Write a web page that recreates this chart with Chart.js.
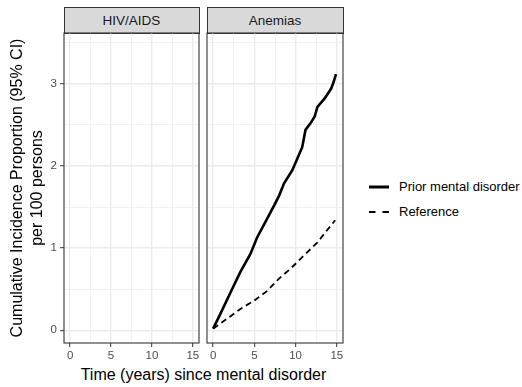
<!DOCTYPE html>
<html lang="en">
<head>
<meta charset="UTF-8">
<title>Cumulative incidence after mental disorder</title>
<script src="https://cdn.jsdelivr.net/npm/chart.js"></script>
<style>
    body {
        margin: 0;
        padding: 0;
        background: #fff;
        font-family: "Liberation Sans", Arial, sans-serif;
    }
    #wrap {
        position: relative;
        width: 522px;
        height: 387px;
        overflow: hidden;
    }
    canvas {
        position: absolute;
    }
    .strip {
        position: absolute;
        box-sizing: border-box;
        top: 7px;
        height: 27px;
        background: #d9d9d9;
        border: 1px solid #333;
        font-size: 13.5px;
        color: #1a1a1a;
        text-align: center;
        line-height: 25px;
    }
    #xtitle {
        position: absolute;
        left: 64px;
        width: 279px;
        top: 366px;
        text-align: center;
        font-size: 16px;
        line-height: 18px;
        color: #000;
    }
    .leg {
        position: absolute;
        left: 369px;
        font-size: 13px;
        color: #000;
        height: 16px;
        line-height: 16px;
    }
    .leg svg {
        vertical-align: top;
        margin-right: 10px;
    }
</style>
</head>
<body>
<div id="wrap">
    <div class="strip" style="left:63.5px;width:136px">HIV/AIDS</div>
    <div class="strip" style="left:206.5px;width:137px">Anemias</div>
    <canvas id="c1" width="205" height="332" style="left:0;top:31px"></canvas>
    <canvas id="c2" width="144" height="332" style="left:205px;top:31px"></canvas>
    <div id="xtitle">Time (years) since mental disorder</div>
    <div class="leg" style="top:179px">
        <svg width="20" height="16"><line x1="0" y1="8" x2="20" y2="8" stroke="#000" stroke-width="3"/></svg>Prior mental disorder
    </div>
    <div class="leg" style="top:204px">
        <svg width="20" height="16"><line x1="0" y1="8" x2="20" y2="8" stroke="#000" stroke-width="2" stroke-dasharray="6.5 7"/></svg>Reference
    </div>
</div>

<script>
    // valeurs (panneau Anemias)
    const priorTime = [0, 0.87, 2.29, 3.3, 4.52, 5.33, 6.55, 7.4, 8.0, 8.6, 9.6, 10.2, 10.8, 11.2, 11.8, 12.3, 12.65, 13.5, 14.3, 14.6, 14.9];
    const priorCIP  = [0.02, 0.20, 0.50, 0.71, 0.93, 1.13, 1.36, 1.52, 1.64, 1.79, 1.95, 2.09, 2.23, 2.44, 2.52, 2.60, 2.72, 2.82, 2.94, 3.02, 3.12];
    const refTime = [0, 1.68, 3.3, 4.96, 6.56, 7.99, 9.4, 11.0, 12.65, 13.67, 14.8];
    const refCIP  = [0.02, 0.14, 0.26, 0.36, 0.48, 0.63, 0.75, 0.91, 1.07, 1.20, 1.34];

    const xTicks = [0, 2.5, 5, 7.5, 10, 12.5, 15];
    const xLabels = [0, 5, 10, 15];
    const yTicks = [0, 0.5, 1, 1.5, 2, 2.5, 3, 3.5];
    const yLabels = [0, 1, 2, 3];

    const xMin = -0.75, xMax = 15.75;
    const yMin = -0.155, yMax = 3.62;

    const tickFont = { family: '"Liberation Sans", Arial, sans-serif', size: 11.5 };

    const panelBorder = {
        id: 'panelBorder',
        afterDraw(chart) {
            const a = chart.chartArea;
            const c = chart.ctx;
            c.save();
            c.strokeStyle = '#333';
            c.lineWidth = 1.1;
            c.strokeRect(a.left, a.top, a.right - a.left, a.bottom - a.top);
            c.restore();
        }
    };

    function isMajor(list, v) {
        return list.some(t => Math.abs(t - v) < 1e-6);
    }

    function xScale() {
        return {
            type: 'linear',
            min: xMin,
            max: xMax,
            afterBuildTicks: s => { s.ticks = xTicks.map(v => ({ value: v })); },
            afterFit: s => { s.height = 20; s.paddingLeft = 0; s.paddingRight = 0; },
            border: { display: false },
            grid: {
                color: '#ebebeb',
                lineWidth: ctx => isMajor(xLabels, ctx.tick.value) ? 1.4 : 0.7,
                tickColor: ctx => isMajor(xLabels, ctx.tick.value) ? '#333' : 'rgba(0,0,0,0)',
                tickLength: 4,
                tickWidth: 1
            },
            ticks: {
                autoSkip: false,
                maxRotation: 0,
                padding: 2,
                color: '#4d4d4d',
                font: tickFont,
                callback: v => isMajor(xLabels, v) ? String(v) : ''
            }
        };
    }

    function yScale(showLabels) {
        return {
            type: 'linear',
            min: yMin,
            max: yMax,
            afterBuildTicks: s => { s.ticks = yTicks.map(v => ({ value: v })); },
            afterFit: s => { s.width = showLabels ? 64 : 0; s.paddingTop = 0; s.paddingBottom = 0; },
            border: { display: false },
            grid: {
                color: '#ebebeb',
                lineWidth: ctx => isMajor(yLabels, ctx.tick.value) ? 1.4 : 0.7,
                drawTicks: showLabels,
                tickColor: ctx => isMajor(yLabels, ctx.tick.value) ? '#333' : 'rgba(0,0,0,0)',
                tickLength: 4,
                tickWidth: 1
            },
            ticks: {
                display: showLabels,
                padding: 3,
                color: '#4d4d4d',
                font: tickFont,
                callback: v => isMajor(yLabels, v) ? String(v) : ''
            },
            title: {
                display: showLabels,
                text: ['Cumulative Incidence Proportion (95% CI)', 'per 100 persons'],
                color: '#000',
                font: { family: '"Liberation Sans", Arial, sans-serif', size: 16, lineHeight: 20 / 16 },
                padding: { top: 8, bottom: 0 }
            }
        };
    }

    function baseOptions(showY, padLeft) {
        return {
            responsive: false,
            animation: false,
            devicePixelRatio: 1,
            layout: { padding: { top: 2, right: 6, left: padLeft, bottom: 0 } },
            plugins: { legend: { display: false }, tooltip: { enabled: false } },
            scales: { x: xScale(), y: yScale(showY) }
        };
    }

    // panneau HIV/AIDS : vide
    new Chart(document.getElementById('c1'), {
        type: 'line',
        data: { datasets: [] },
        options: baseOptions(true, 0),
        plugins: [panelBorder]
    });

    // panneau Anemias
    new Chart(document.getElementById('c2'), {
        type: 'line',
        data: {
            datasets: [
                {
                    label: 'Prior mental disorder',
                    data: priorTime.map((t, i) => ({ x: t, y: priorCIP[i] })),
                    borderColor: '#000',
                    borderWidth: 2.6,
                    pointRadius: 0,
                    tension: 0,
                    fill: false
                },
                {
                    label: 'Reference',
                    data: refTime.map((t, i) => ({ x: t, y: refCIP[i] })),
                    borderColor: '#000',
                    borderWidth: 1.8,
                    borderDash: [6, 4],
                    pointRadius: 0,
                    tension: 0,
                    fill: false
                }
            ]
        },
        options: baseOptions(false, 2),
        plugins: [panelBorder]
    });
</script>
</body>
</html>
